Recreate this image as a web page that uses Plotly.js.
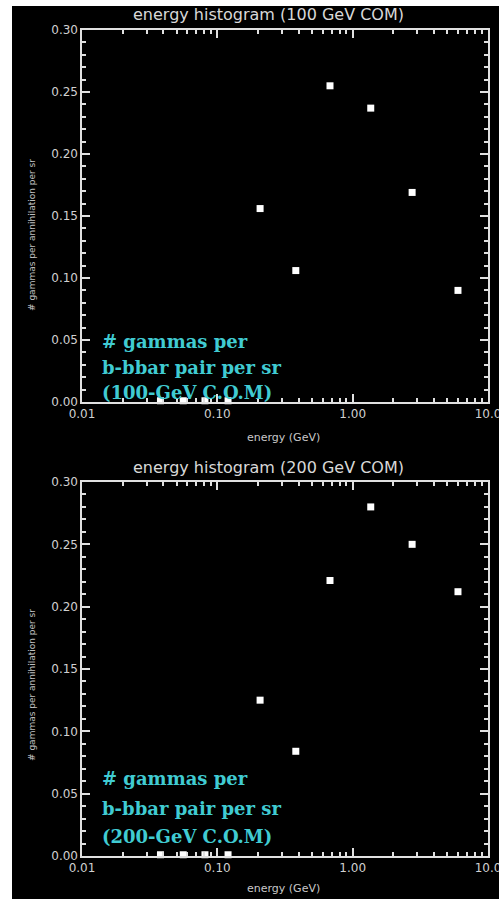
<!DOCTYPE html>
<html>
<head>
<meta charset="utf-8">
<script src="https://cdn.plot.ly/plotly-3.0.1.min.js"></script>
<style>
html,body{margin:0;padding:0;background:#fff;width:499px;height:899px;overflow:hidden;}
#chart{position:absolute;left:12px;top:6px;width:515px;height:893px;}
</style>
</head>
<body>
<div id="chart"></div>
<script>
// Data
const energy100 = [0.038, 0.056, 0.081, 0.12, 0.207, 0.38, 0.68, 1.36, 2.75, 6.0];
const gammas100 = [0.001, 0.001, 0.001, 0.001, 0.156, 0.106, 0.255, 0.237, 0.169, 0.090];
const energy200 = [0.038, 0.056, 0.081, 0.12, 0.207, 0.38, 0.68, 1.36, 2.75, 6.0];
const gammas200 = [0.001, 0.001, 0.001, 0.001, 0.125, 0.084, 0.221, 0.280, 0.250, 0.212];
const xTickVals = [0.01, 0.1, 1, 10];
const xTickText = ['0.01', '0.10', '1.00', '10.0'];
const yTickVals = [0, 0.05, 0.10, 0.15, 0.20, 0.25, 0.30];
const yTickText = ['0.00', '0.05', '0.10', '0.15', '0.20', '0.25', '0.30'];
const titles = ['energy histogram (100 GeV COM)', 'energy histogram (200 GeV COM)'];
const noteLines100 = ['# gammas per', 'b-bbar pair per sr', '(100-GeV C.O.M)'];
const noteLines200 = ['# gammas per', 'b-bbar pair per sr', '(200-GeV C.O.M)'];
const xTitle = 'energy (GeV)';
const yTitle = '# gammas per annihilation per sr';

const minorX = [];
for (let d = -2; d < 1; d++) { for (let m = 2; m <= 9; m++) minorX.push(m * Math.pow(10, d)); }

const W = 515, H = 893;
const axisCol = '#e0e0e0';
const tickFont = {family: 'DejaVu Sans', size: 12, color: '#d0d0d0'};
const xDomain = [70 / W, 476 / W];

function xax(anchor) {
  return {
    type: 'log', range: [-2, 1], domain: xDomain, anchor: anchor,
    tickmode: 'array', tickvals: xTickVals, ticktext: xTickText,
    ticks: 'inside', ticklen: 8, tickcolor: axisCol, tickwidth: 2,
    showline: true, linecolor: axisCol, linewidth: 1.6, mirror: 'ticks',
    showgrid: false, zeroline: false, tickfont: tickFont,
    minor: {tickmode: 'array', tickvals: minorX, ticks: 'inside', ticklen: 4, tickcolor: axisCol, tickwidth: 2, showgrid: false}
  };
}
function yax(domain, anchor) {
  return {
    range: [0, 0.3], domain: domain, anchor: anchor,
    tickmode: 'array', tickvals: yTickVals, ticktext: yTickText,
    ticks: 'inside', ticklen: 8, tickcolor: axisCol, tickwidth: 2,
    showline: true, linecolor: axisCol, linewidth: 1.6, mirror: 'ticks',
    showgrid: false, zeroline: false, tickfont: tickFont,
    minor: {dtick: 0.01, ticks: 'inside', ticklen: 4, tickcolor: axisCol, tickwidth: 2, showgrid: false}
  };
}

const marker = {symbol: 'square', size: 7, color: '#ffffff'};
const traces = [
  {x: energy100, y: gammas100, xaxis: 'x', yaxis: 'y', mode: 'markers', type: 'scatter', marker: marker, cliponaxis: false},
  {x: energy200, y: gammas200, xaxis: 'x2', yaxis: 'y2', mode: 'markers', type: 'scatter', marker: marker, cliponaxis: false}
];

const ann = [];
const titleFont = {family: 'DejaVu Sans', size: 16, color: '#d8d8d8'};
ann.push({text: titles[0], xref: 'paper', yref: 'paper', x: 256 / W, y: 1 - 9 / H, xanchor: 'center', yanchor: 'middle', showarrow: false, font: titleFont});
ann.push({text: titles[1], xref: 'paper', yref: 'paper', x: 256 / W, y: 1 - 461 / H, xanchor: 'center', yanchor: 'middle', showarrow: false, font: titleFont});
const smallFont = {family: 'DejaVu Sans', size: 11, color: '#c8c8c8'};
ann.push({text: xTitle, xref: 'paper', yref: 'paper', x: 271 / W, y: 1 - 431 / H, xanchor: 'center', yanchor: 'middle', showarrow: false, font: smallFont});
ann.push({text: xTitle, xref: 'paper', yref: 'paper', x: 271 / W, y: 1 - 882 / H, xanchor: 'center', yanchor: 'middle', showarrow: false, font: smallFont});
const yFont = {family: 'DejaVu Sans', size: 9, color: '#c0c0c0'};
ann.push({text: yTitle, xref: 'paper', yref: 'paper', x: 20 / W, y: 1 - 229 / H, xanchor: 'center', yanchor: 'middle', textangle: -90, showarrow: false, font: yFont});
ann.push({text: yTitle, xref: 'paper', yref: 'paper', x: 20 / W, y: 1 - 679 / H, xanchor: 'center', yanchor: 'middle', textangle: -90, showarrow: false, font: yFont});

const noteFont = {family: 'DejaVu Serif', size: 18, color: '#40cbd2', weight: 'bold'};
const ys100 = [335, 361, 386];
const ys200 = [772, 802, 830];
noteLines100.forEach((t, i) => ann.push({text: '<b>' + t + '</b>', xref: 'paper', yref: 'paper', x: 88 / W, y: 1 - ys100[i] / H, xanchor: 'left', yanchor: 'middle', showarrow: false, font: noteFont}));
noteLines200.forEach((t, i) => ann.push({text: '<b>' + t + '</b>', xref: 'paper', yref: 'paper', x: 88 / W, y: 1 - ys200[i] / H, xanchor: 'left', yanchor: 'middle', showarrow: false, font: noteFont}));

const d1 = [1 - 396 / H, 1 - 24 / H], d2 = [1 - 850 / H, 1 - 476 / H];
const layout = {
  width: W, height: H,
  margin: {l: 0, r: 0, t: 0, b: 0},
  paper_bgcolor: '#000000', plot_bgcolor: '#000000',
  showlegend: false,
  xaxis: xax('y'),
  yaxis: yax(d1, 'x'),
  xaxis2: xax('y2'),
  yaxis2: yax(d2, 'x2'),
  annotations: ann
};

Plotly.newPlot('chart', traces, layout, {staticPlot: true, displayModeBar: false});
</script>
</body>
</html>
